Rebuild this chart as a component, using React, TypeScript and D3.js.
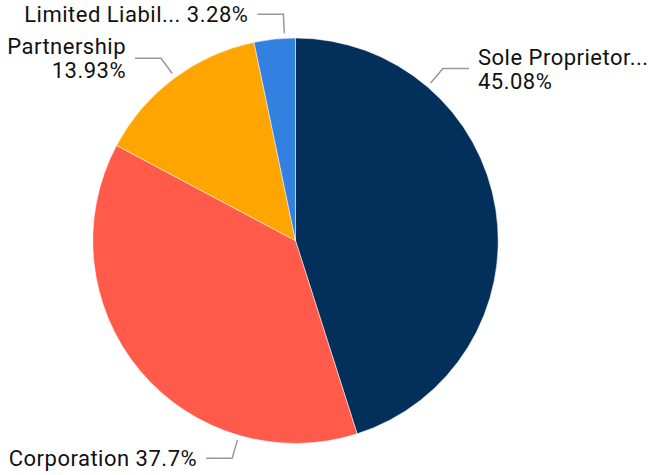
import React from "react";
import * as d3 from "d3";

const categories = ["Sole Proprietor...", "Corporation", "Partnership", "Limited Liabil..."];
const values = [45.08, 37.7, 13.93, 3.28];
const valueLabels = ["45.08%", "37.7%", "13.93%", "3.28%"];
const colors = ["#02305A", "#FF5A4A", "#FFA502", "#3280E0"];

// layout: where along each slice the leader line attaches, and label form
const anchorFrac = [0.25, 0.25, 0.51, 0.74];
const twoLine = [true, false, true, false];

const W = 654, H = 475;
const cx = 295.5, cy = 240.7, R = 202.7;

export default function App() {
  const pie = d3.pie<number>().sort(null).value((d) => d);
  const arcs = pie(values);
  const arcGen = d3.arc<d3.PieArcDatum<number>>().innerRadius(0).outerRadius(R);
  const font = "Roboto, sans-serif";
  const fs = 22;
  return (
    <svg width={W} height={H} style={{ position: "absolute", left: 0, top: 0 }}>
      <g transform={`translate(${cx},${cy})`}>
        {arcs.map((a, i) => (
          <path key={i} d={arcGen(a) || ""} fill={colors[i]} stroke="#fff" strokeWidth={0.5} />
        ))}
        {arcs.map((a, i) => {
          const ang = a.startAngle + (a.endAngle - a.startAngle) * anchorFrac[i];
          const sx = Math.sin(ang), sy = -Math.cos(ang);
          const p1 = [sx * (R + 5), sy * (R + 5)];
          const p2 = [sx * (R + 24), sy * (R + 24)];
          const right = sx >= 0;
          const p3 = [p2[0] + (right ? 26 : -26), p2[1]];
          const tx = p3[0] + (right ? 9 : -9);
          const anchor = right ? "start" : "end";
          return (
            <g key={"l" + i}>
              <polyline
                points={[p1, p2, p3].map((p) => p.join(",")).join(" ")}
                fill="none"
                stroke="#999"
                strokeWidth={1.5}
              />
              {twoLine[i] ? (
                <g>
                  <text x={tx} y={p3[1] - 4} textAnchor={anchor} fontFamily={font} fontSize={fs} letterSpacing={0.5} fill="#111">
                    {categories[i]}
                  </text>
                  <text x={tx} y={p3[1] + 20} textAnchor={anchor} fontFamily={font} fontSize={fs} letterSpacing={0.5} fill="#111">
                    {valueLabels[i]}
                  </text>
                </g>
              ) : (
                <text x={tx} y={p3[1] + 8} textAnchor={anchor} fontFamily={font} fontSize={fs} letterSpacing={0.5} fill="#111">
                  {categories[i] + " " + valueLabels[i]}
                </text>
              )}
            </g>
          );
        })}
      </g>
    </svg>
  );
}
